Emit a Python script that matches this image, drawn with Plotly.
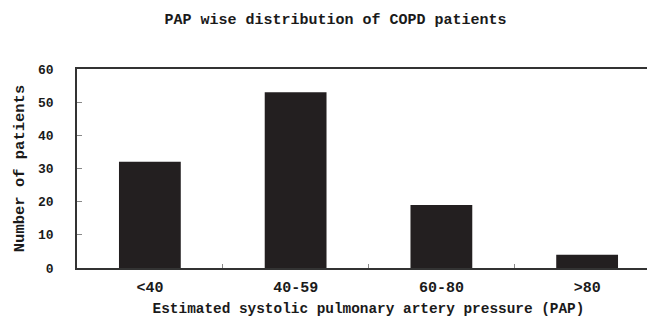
import plotly.graph_objects as go

categories = ["<40", "40-59", "60-80", ">80"]
patients = [32, 53, 19, 4]
y_ticks = [0, 10, 20, 30, 40, 50, 60]

FONT = "Liberation Mono"
INK = "#1a1a1a"

fig = go.Figure(go.Bar(
    x=categories, y=patients,
    marker=dict(color="#231f20", line=dict(width=0)),
    width=0.424,
))

fig.update_layout(
    width=655, height=318,
    margin=dict(l=69, r=1, t=61, b=58),
    paper_bgcolor="white", plot_bgcolor="white",
    font=dict(family=FONT, size=14, color=INK),
    title=dict(text="<b>PAP wise distribution of COPD patients</b>", x=0.5, xanchor="center",
               y=0.965, yanchor="middle", font=dict(family=FONT, size=15, color=INK)),
    showlegend=False,
)
fig.update_xaxes(
    showline=True, linecolor="#333", linewidth=1.5, mirror=True,
    ticks="inside", tickson="boundaries", ticklen=4, tickcolor="#888",
    showgrid=False,
    ticklabelstandoff=4,
    tickfont=dict(family=FONT, size=15, color=INK, weight="bold"),
    title=dict(text="<b>Estimated systolic pulmonary artery pressure (PAP)</b>", standoff=7,
               font=dict(family=FONT, size=14.4, color=INK)),
)
fig.update_yaxes(
    range=[0, 60], tickvals=y_ticks,
    showline=True, linecolor="#333", linewidth=1.5, mirror=True,
    ticks="inside", ticklen=5, tickcolor="#888",
    showgrid=False, zeroline=False,
    ticklabelstandoff=19,
    tickfont=dict(family=FONT, size=13, color=INK, weight="bold"),
    title=dict(text="<b>Number of patients</b>", standoff=10,
               font=dict(family=FONT, size=15.5, color=INK)),
)

fig.write_html("out.html")
